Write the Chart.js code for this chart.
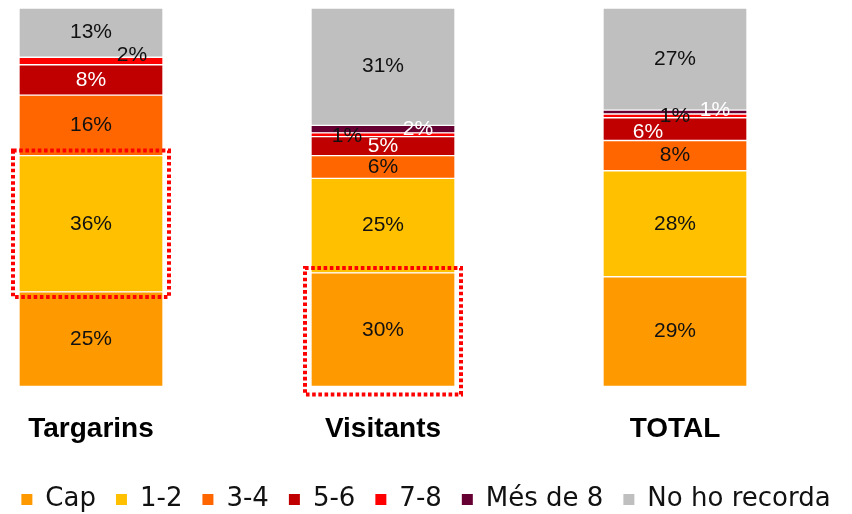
<!DOCTYPE html>
<html>
<head>
<meta charset="utf-8">
<script src="https://cdn.jsdelivr.net/npm/chart.js@4/dist/chart.umd.min.js"></script>
<style>
  html, body { margin: 0; padding: 0; background: #fff; }
  #wrap { width: 852px; height: 514px; }
</style>
</head>
<body>
<div id="wrap"><canvas id="myChart"></canvas></div>
<script>
// categories and series (percent)
var categories = ['Targarins', 'Visitants', 'TOTAL'];
var seriesNames = ['Cap', '1-2', '3-4', '5-6', '7-8', 'Més de 8', 'No ho recorda'];
var cap = [25, 30, 29];
var v12 = [36, 25, 28];
var v34 = [16, 6, 8];
var v56 = [8, 5, 6];
var v78 = [2, 1, 1];
var mes8 = [0, 2, 1];
var noRecorda = [13, 31, 27];

var colors = ['#ff9900', '#ffc000', '#ff6600', '#c00000', '#ff0000', '#660033', '#bfbfbf'];
var labelColors = ['#111', '#111', '#111', '#fff', '#111', '#fff', '#111'];

// small label shifts for thin segments  "dataset:index": [dx, dy]
var nudges = {
  '4:0': [41, -6],
  '4:1': [-36, 1],
  '5:1': [35, 0],
  '5:2': [40, -2],
  '3:2': [-27, 3]
};

// dotted red boxes (dataset index, category index)
var highlights = [
  { ds: 1, idx: 0, padBottom: 5 },
  { ds: 0, idx: 1, padBottom: 8 }
];

var allData = [cap, v12, v34, v56, v78, mes8, noRecorda];
var datasets = allData.map(function(d, i) {
  return {
    label: seriesNames[i],
    data: d,
    backgroundColor: colors[i],
    borderColor: '#fff',
    borderWidth: 1,
    borderSkipped: false,
    barThickness: 144,
    labelColor: labelColors[i],
    clip: false
  };
});

// values on the segments
var segLabels = {
  id: 'segLabels',
  afterDatasetsDraw: function(chart) {
    var ctx = chart.ctx;
    ctx.save();
    ctx.font = '21px "Liberation Sans"';
    ctx.textAlign = 'center';
    ctx.textBaseline = 'middle';
    chart.data.datasets.forEach(function(ds, di) {
      var meta = chart.getDatasetMeta(di);
      meta.data.forEach(function(bar, i) {
        var v = ds.data[i];
        if (!v) return;
        var c = bar.getCenterPoint();
        var n = nudges[di + ':' + i] || [0, 0];
        ctx.fillStyle = ds.labelColor;
        ctx.fillText(v + '%', c.x + n[0], c.y + n[1]);
      });
    });
    ctx.restore();
  }
};

// dotted outlines
var dotBoxes = {
  id: 'dotBoxes',
  afterDatasetsDraw: function(chart) {
    var ctx = chart.ctx;
    ctx.save();
    ctx.strokeStyle = '#ff0000';
    ctx.lineWidth = 4;
    ctx.setLineDash([3.6, 2.6]);
    highlights.forEach(function(h) {
      var bar = chart.getDatasetMeta(h.ds).data[h.idx];
      var p = bar.getProps(['x', 'y', 'base', 'width'], true);
      var left = p.x - p.width / 2 - 6;
      var right = p.x + p.width / 2 + 6;
      var top = Math.min(p.y, p.base) - 5;
      var bottom = Math.max(p.y, p.base) + h.padBottom;
      ctx.strokeRect(left, top, right - left, bottom - top);
    });
    ctx.restore();
  }
};

var ctx = document.getElementById('myChart').getContext('2d');
var myChart = new Chart(ctx, {
  type: 'bar',
  data: { labels: categories, datasets: datasets },
  options: {
    responsive: true,
    maintainAspectRatio: false,
    animation: false,
    layout: { padding: { top: 8, bottom: -8.5 } },
    scales: {
      x: {
        stacked: true,
        offset: false,
        grid: { display: false, drawTicks: false },
        border: { display: false },
        ticks: {
          color: '#000',
          font: { family: 'Liberation Sans', size: 28, weight: 'bold' },
          padding: 26,
          maxRotation: 0,
          autoSkip: false
        },
        afterFit: function(s) { s.height = 80; }
      },
      y: {
        stacked: true,
        min: 0,
        max: 100,
        grid: { display: false, drawTicks: false },
        border: { display: false },
        ticks: { display: false },
        afterFit: function(s) { s.width = 91; }
      },
      yR: {
        position: 'right',
        min: 0,
        max: 100,
        grid: { display: false, drawTicks: false },
        border: { display: false },
        ticks: { display: false },
        afterFit: function(s) { s.width = 177; }
      }
    },
    plugins: {
      tooltip: { enabled: false },
      legend: {
        position: 'bottom',
        labels: {
          boxWidth: 11,
          boxHeight: 11,
          padding: 20,
          color: '#111',
          font: { family: 'DejaVu Sans', size: 26 },
          generateLabels: function(chart) {
            return Chart.defaults.plugins.legend.labels.generateLabels(chart).map(function(l) {
              l.lineWidth = 0;
              l.strokeStyle = 'rgba(0,0,0,0)';
              return l;
            });
          }
        }
      }
    }
  },
  plugins: [segLabels, dotBoxes]
});
</script>
</body>
</html>
